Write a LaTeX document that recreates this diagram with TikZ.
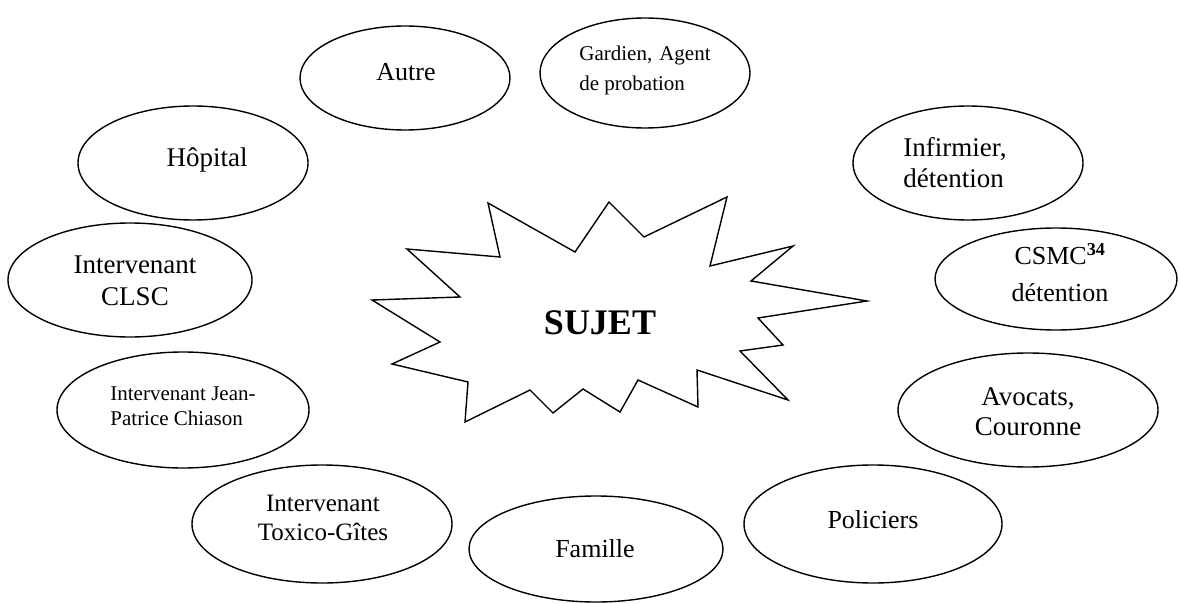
\documentclass[tikz,border=0pt]{standalone}
\usepackage{fontspec}
\setmainfont{Liberation Serif}
\usetikzlibrary{shapes.geometric}
\begin{document}
\begin{tikzpicture}[x=1pt,y=-1pt,
  oval/.style={ellipse, draw, line width=1.4pt, inner sep=0pt},
  txt/.style={inner sep=0pt, align=center},
  burst/.style={draw, line width=1.4pt, line join=miter}]
\useasboundingbox (0,0) rectangle (1180,604);
% starburst
\draw[burst] (488,203) -- (575,252) -- (609,202) -- (644,237) -- (727,197) -- (710,266)
  -- (793,246) -- (751,281) -- (867,301) -- (758,318) -- (783,345) -- (740,351)
  -- (788,400) -- (697,370) -- (698,407) -- (638,380) -- (620,412) -- (583,389)
  -- (553,413) -- (530,390) -- (465,422) -- (468,382) -- (392,364) -- (440,342)
  -- (372,300) -- (460,297) -- (407,249) -- (500,257) -- cycle;
\node[font=\bfseries\fontsize{36}{40}\selectfont] (sujet) at (600,323) {SUJET};
% ellipses
\node[oval, minimum width=210pt, minimum height=104pt] (autre) at (405,78) {};
\node[oval, minimum width=210pt, minimum height=110pt] (gardien) at (645,73) {};
\node[oval, minimum width=230pt, minimum height=114pt] (hopital) at (193,163) {};
\node[oval, minimum width=230pt, minimum height=114pt] (infirmier) at (968,163) {};
\node[oval, minimum width=242pt, minimum height=102pt] (csmc) at (1056,279) {};
\node[oval, minimum width=244pt, minimum height=114pt] (clsc) at (130,280) {};
\node[oval, minimum width=252pt, minimum height=116pt] (jean) at (183,410) {};
\node[oval, minimum width=260pt, minimum height=118pt] (toxico) at (322,524) {};
\node[oval, minimum width=254pt, minimum height=106pt] (famille) at (596,549) {};
\node[oval, minimum width=258pt, minimum height=118pt] (policiers) at (873,524) {};
\node[oval, minimum width=260pt, minimum height=114pt] (avocats) at (1028,410) {};
% texts
\node[txt, font=\fontsize{26}{30}\selectfont] (tautre) at (406,72) {Autre};
\node[txt, align=left, font=\fontsize{21}{30}\selectfont] (tgardien) at (645,70) {Gardien,\hspace{7pt}Agent\\de probation};
\node[txt, font=\fontsize{27}{30}\selectfont] (thopital) at (207,160) {Hôpital};
\node[txt, align=left, font=\fontsize{27}{31}\selectfont] (tinfirmier) at (955,163) {Infirmier,\\détention};
\node[txt, font=\fontsize{26}{37}\selectfont] (tcsmc) at (1060,273) {CSMC\textsuperscript{\textbf{34}}\\détention};
\node[txt, font=\fontsize{27}{32}\selectfont] (tclsc) at (135,281) {Intervenant\\CLSC};
\node[txt, align=left, font=\fontsize{21}{25}\selectfont] (tjean) at (183,406) {Intervenant Jean-\\Patrice Chiason};
\node[txt, font=\fontsize{25}{29}\selectfont] (ttoxico) at (323,518) {Intervenant\\Toxico-Gîtes};
\node[txt, font=\fontsize{26}{30}\selectfont] (tfamille) at (595,549) {Famille};
\node[txt, font=\fontsize{26}{30}\selectfont] (tpoliciers) at (873,520) {Policiers};
\node[txt, font=\fontsize{27}{30}\selectfont] (tavocats) at (1028,412) {Avocats,\\Couronne};
\end{tikzpicture}
\end{document}
